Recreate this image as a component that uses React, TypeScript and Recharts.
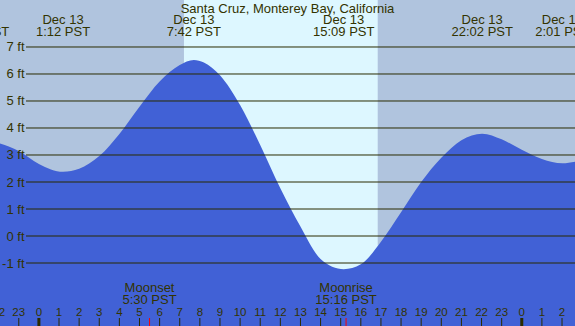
import React from 'react';
import { ComposedChart, Area, XAxis, YAxis, ReferenceArea } from 'recharts';

const W = 575;
const H = 326;
const FONT = '"Liberation Sans", Arial, sans-serif';
const TEXT = '#333300';
const LINE = '#2b2b00';
const NIGHT = '#B0C4DE';
const DAY = '#DDF7FF';
const WATER = '#4161D6';

const title = 'Santa Cruz, Monterey Bay, California';

// tide curve (hours from Dec 13 00:00, feet)
const hours = [-3.0, -1.933, -1, 0, 1.2, 2, 3, 4, 5, 6, 7, 7.7, 8.2, 9, 10, 11, 12, 13, 14, 15.15, 16, 17, 18, 19, 20, 21, 22.03, 23, 24, 25, 26.02, 26.645];
const heights = [3.6, 3.43, 3.15, 2.67, 2.38, 2.49, 2.96, 3.78, 4.79, 5.72, 6.33, 6.52, 6.43, 5.95, 4.85, 3.37, 1.77, 0.35, -0.85, -1.23, -1.05, -0.21, 0.88, 2.0, 2.9, 3.55, 3.79, 3.58, 3.19, 2.85, 2.69, 2.75];

const hourTicks = [-2, -1, 0, 1, 2, 3, 4, 5, 6, 7, 8, 9, 10, 11, 12, 13, 14, 15, 16, 17, 18, 19, 20, 21, 22, 23, 24, 25, 26];
const hourLabels = ['22', '23', '0', '1', '2', '3', '4', '5', '6', '7', '8', '9', '10', '11', '12', '13', '14', '15', '16', '17', '18', '19', '20', '21', '22', '23', '0', '1', '2'];

const heightTicks = [-1, 0, 1, 2, 3, 4, 5, 6, 7];
const heightLabels = ['-1 ft', '0 ft', '1 ft', '2 ft', '3 ft', '4 ft', '5 ft', '6 ft', '7 ft'];

const extremeHours = [-3.0, 1.2, 7.7, 15.15, 22.033, 26.017];
const extremeDates = ['Dec 12', 'Dec 13', 'Dec 13', 'Dec 13', 'Dec 13', 'Dec 14'];
const extremeTimes = ['21:00 PST', '1:12 PST', '7:42 PST', '15:09 PST', '22:02 PST', '2:01 PST'];

const moonHours = [5.5, 15.267];
const moonNames = ['Moonset', 'Moonrise'];
const moonTimes = ['5:30 PST', '15:16 PST'];

const sunrise = 7.21;
const sunset = 16.84;

const xDomain = [-1.933, 26.645];
const yDomain = [-3.3333, 8.7407];

const data = hours.map((h, i) => ({ h, v: heights[i] }));

const HourTick = (props: any) => {
  const { x, payload } = props;
  const i = hourTicks.indexOf(payload.value);
  const midnight = payload.value % 24 === 0;
  return (
    <g>
      <line x1={x} x2={x} y1={H - 8} y2={H} stroke={LINE} strokeWidth={midnight ? 3 : 1} />
      <text x={x} y={H - 10} textAnchor="middle" fontSize={11.5} fontFamily={FONT} fill={TEXT}>
        {hourLabels[i]}
      </text>
    </g>
  );
};

const MoonTick = (props: any) => {
  const { x, payload } = props;
  const i = moonHours.indexOf(payload.value);
  return (
    <g>
      <line x1={x} x2={x} y1={H - 8} y2={H} stroke="#ff0000" strokeWidth={1} />
      <text x={x} y={H - 34.5} textAnchor="middle" fontSize={13} fontFamily={FONT} fill={TEXT}>
        {moonNames[i]}
      </text>
      <text x={x} y={H - 22} textAnchor="middle" fontSize={13} fontFamily={FONT} fill={TEXT}>
        {moonTimes[i]}
      </text>
    </g>
  );
};

const ExtremeTick = (props: any) => {
  const { x, payload } = props;
  const i = extremeHours.indexOf(payload.value);
  return (
    <g>
      <text x={x} y={24} textAnchor="middle" fontSize={13} fontFamily={FONT} fill={TEXT}>
        {extremeDates[i]}
      </text>
      <text x={x} y={36} textAnchor="middle" fontSize={13} fontFamily={FONT} fill={TEXT}>
        {extremeTimes[i]}
      </text>
    </g>
  );
};

const HeightTick = (props: any) => {
  const { y, payload } = props;
  const i = heightTicks.indexOf(payload.value);
  return (
    <g>
      <line x1={26} x2={W} y1={y} y2={y} stroke={LINE} strokeWidth={1} />
      <text x={24.5} y={y + 4.5} textAnchor="end" fontSize={13} fontFamily={FONT} fill={TEXT}>
        {heightLabels[i]}
      </text>
    </g>
  );
};

export default function App() {
  return (
    <div style={{ position: 'absolute', left: 0, top: 0, width: W, height: H, overflow: 'hidden', background: NIGHT }}>
      <ComposedChart width={W} height={H} data={data} margin={{ top: 0, right: 0, bottom: 0, left: 0 }}>
        <ReferenceArea xAxisId="h" x1={sunrise} x2={sunset} fill={DAY} fillOpacity={1} stroke="none" ifOverflow="hidden" zIndex={-50} />
        <Area xAxisId="h" type="monotone" dataKey="v" baseValue="dataMin" fill={WATER} fillOpacity={1} stroke="none"
          isAnimationActive={false} dot={false} activeDot={false} />
        <XAxis xAxisId="h" dataKey="h" type="number" domain={xDomain} allowDataOverflow ticks={hourTicks} interval={0}
          mirror height={30} axisLine={false} tickLine={false} tickSize={0} tickMargin={0} tick={<HourTick />} />
        <XAxis xAxisId="m" dataKey="h" type="number" domain={xDomain} allowDataOverflow ticks={moonHours} interval={0}
          mirror height={30} axisLine={false} tickLine={false} tickSize={0} tickMargin={0} tick={<MoonTick />} />
        <XAxis xAxisId="t" dataKey="h" type="number" orientation="top" domain={xDomain} allowDataOverflow ticks={extremeHours} interval={0}
          mirror height={30} axisLine={false} tickLine={false} tickSize={0} tickMargin={0} tick={<ExtremeTick />} />
        <YAxis type="number" domain={yDomain} allowDataOverflow ticks={heightTicks} interval={0} mirror width={30}
          axisLine={false} tickLine={false} tickSize={0} tickMargin={0} tick={<HeightTick />} />
      </ComposedChart>
      <svg width={W} height={20} style={{ position: 'absolute', left: 0, top: 0 }}>
        <text x={W / 2} y={12.5} textAnchor="middle" fontSize={13} fontFamily={FONT} fill={TEXT}>{title}</text>
      </svg>
    </div>
  );
}
